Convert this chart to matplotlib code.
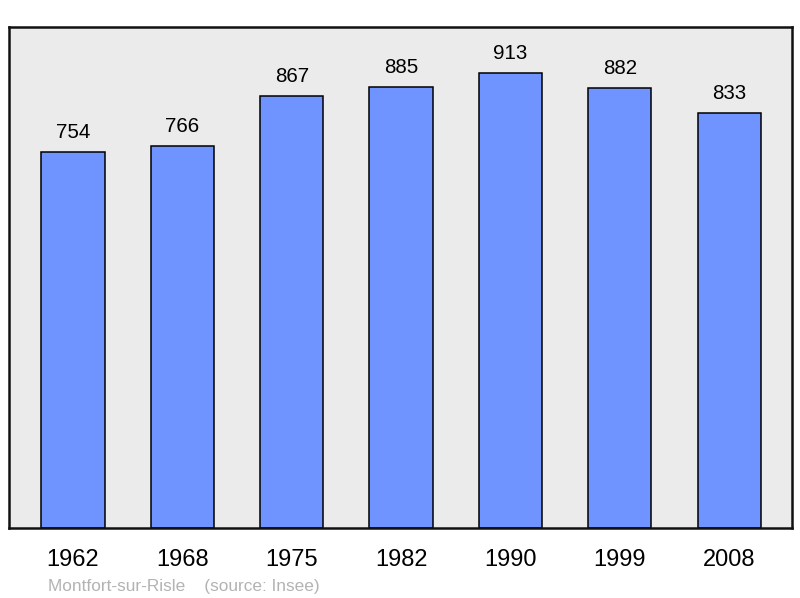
import matplotlib.pyplot as plt

plt.rcParams['font.family'] = ['Liberation Sans', 'DejaVu Sans']

# Population data
years = ['1962', '1968', '1975', '1982', '1990', '1999', '2008']
population = [754, 766, 867, 885, 913, 882, 833]

fig = plt.figure(figsize=(8, 5.98), dpi=100)
ax = fig.add_axes([9 / 800, 70 / 598, 783 / 800, 501 / 598])
ax.set_facecolor('#ebebeb')

x = list(range(len(years)))
ax.bar(x, population, width=0.577, color='#7094ff', edgecolor='black', linewidth=1.1, zorder=2)

for xi, v in zip(x, population):
    ax.text(xi, v + 28, str(v), ha='center', va='baseline', fontsize=14.8)

ax.set_xlim(-0.585, 6.575)
ax.set_ylim(0, 1005)
ax.set_xticks(x)
ax.set_xticklabels(years, fontsize=17)
ax.tick_params(axis='x', length=0, pad=15)
ax.set_yticks([])

for s in ax.spines.values():
    s.set_linewidth(1.8)
    s.set_color('#111111')

fig.text(48 / 800, 1 - 586 / 598, 'Montfort-sur-Risle    (source: Insee)',
         fontsize=12.4, color='#b3b3b3', ha='left', va='center')

fig.savefig('out.png', dpi=100)
